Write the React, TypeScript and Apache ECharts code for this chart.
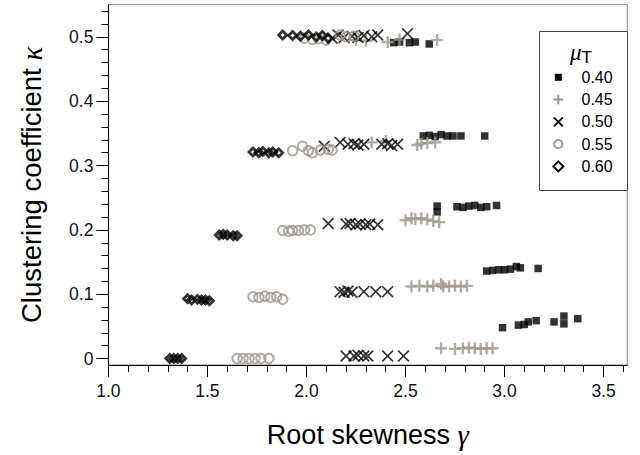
import React, { useEffect, useRef } from "react";
import * as echarts from "echarts";

// ---------- data (γ, κ) per μT ----------
const muLabels = ["0.40", "0.45", "0.50", "0.55", "0.60"];

const mu040: number[][] = [
  [2.44, 0.491], [2.47, 0.492], [2.52, 0.491], [2.55, 0.492], [2.62, 0.489],
  [2.59, 0.346], [2.62, 0.347], [2.65, 0.345], [2.68, 0.348], [2.71, 0.346], [2.74, 0.346], [2.78, 0.346], [2.9, 0.346],
  [2.66, 0.228], [2.66, 0.237], [2.76, 0.236], [2.79, 0.235], [2.82, 0.237], [2.85, 0.238], [2.88, 0.235], [2.91, 0.236], [2.96, 0.238],
  [2.91, 0.136], [2.94, 0.137], [2.97, 0.138], [3.0, 0.138], [3.03, 0.139], [3.06, 0.143], [3.08, 0.141], [3.17, 0.14],
  [2.99, 0.048], [3.07, 0.052], [3.1, 0.053], [3.12, 0.057], [3.16, 0.059], [3.25, 0.057], [3.3, 0.066], [3.3, 0.054], [3.37, 0.062],
];

const mu045: number[][] = [
  [2.25, 0.495], [2.3, 0.494], [2.41, 0.492], [2.47, 0.496], [2.66, 0.495],
  [2.33, 0.336], [2.4, 0.338], [2.56, 0.332], [2.58, 0.334], [2.61, 0.335], [2.65, 0.336],
  [2.5, 0.215], [2.53, 0.218], [2.55, 0.217], [2.58, 0.218], [2.61, 0.216], [2.64, 0.214], [2.67, 0.212],
  [2.53, 0.112], [2.57, 0.113], [2.61, 0.112], [2.64, 0.113], [2.68, 0.116], [2.69, 0.112], [2.72, 0.112], [2.75, 0.113], [2.78, 0.112], [2.81, 0.113],
  [2.68, 0.016], [2.75, 0.015], [2.79, 0.016], [2.82, 0.017], [2.85, 0.016], [2.88, 0.015], [2.91, 0.016], [2.94, 0.016],
];

const mu050: number[][] = [
  [2.13, 0.498], [2.16, 0.503], [2.19, 0.499], [2.23, 0.501], [2.26, 0.499], [2.29, 0.502], [2.33, 0.5], [2.36, 0.503], [2.51, 0.505],
  [2.09, 0.33], [2.17, 0.336], [2.21, 0.333], [2.24, 0.334], [2.26, 0.332], [2.29, 0.333], [2.38, 0.333], [2.41, 0.334], [2.43, 0.331], [2.46, 0.333],
  [2.11, 0.21], [2.2, 0.209], [2.22, 0.21], [2.25, 0.208], [2.27, 0.209], [2.3, 0.208], [2.32, 0.209], [2.36, 0.208],
  [2.17, 0.104], [2.19, 0.103], [2.21, 0.105], [2.23, 0.103], [2.29, 0.104], [2.35, 0.104], [2.41, 0.104],
  [2.2, 0.004], [2.24, 0.004], [2.26, 0.005], [2.29, 0.004], [2.31, 0.004], [2.41, 0.004], [2.49, 0.004],
];

const mu055: number[][] = [
  [1.99, 0.498], [2.03, 0.496], [2.06, 0.497], [2.1, 0.495], [2.17, 0.503], [2.2, 0.5], [2.24, 0.501],
  [1.93, 0.323], [1.98, 0.33], [2.01, 0.323], [2.03, 0.32], [2.07, 0.324], [2.11, 0.325], [2.13, 0.324],
  [1.88, 0.199], [1.91, 0.198], [1.93, 0.199], [1.96, 0.199], [1.99, 0.2], [2.02, 0.2],
  [1.73, 0.096], [1.76, 0.095], [1.79, 0.097], [1.82, 0.095], [1.85, 0.096], [1.88, 0.092],
  [1.65, 0.0], [1.68, 0.0], [1.71, 0.0], [1.74, 0.0], [1.77, 0.0], [1.81, 0.0],
];

const mu060: number[][] = [
  [1.88, 0.503], [1.93, 0.502], [1.97, 0.501], [2.01, 0.503], [2.05, 0.5], [2.08, 0.502], [2.11, 0.498],
  [1.73, 0.321], [1.76, 0.32], [1.78, 0.322], [1.81, 0.32], [1.83, 0.321], [1.86, 0.32],
  [1.56, 0.192], [1.58, 0.193], [1.6, 0.192], [1.63, 0.191], [1.65, 0.191],
  [1.4, 0.093], [1.42, 0.091], [1.45, 0.092], [1.47, 0.091], [1.49, 0.091], [1.51, 0.09],
  [1.31, 0.0], [1.33, 0.0], [1.35, 0.0], [1.37, 0.0],
];

const xMajor = [1.0, 1.5, 2.0, 2.5, 3.0, 3.5];
const xMinor = [1.1, 1.2, 1.3, 1.4, 1.6, 1.7, 1.8, 1.9, 2.1, 2.2, 2.3, 2.4, 2.6, 2.7, 2.8, 2.9, 3.1, 3.2, 3.3, 3.4, 3.6];
const yMajor = [0, 0.1, 0.2, 0.3, 0.4, 0.5];
const yMinor = [0.02, 0.04, 0.06, 0.08, 0.12, 0.14, 0.16, 0.18, 0.22, 0.24, 0.26, 0.28, 0.32, 0.34, 0.36, 0.38, 0.42, 0.44, 0.46, 0.48, 0.52, 0.54];

const SANS = "'Liberation Sans', Arial, sans-serif";
const SERIF = "'Liberation Serif', 'Times New Roman', serif";
const GRAY = "#9c968f";

const PLUS = "path://M4,0H6V4H10V6H6V10H4V6H0V4H4Z";
const CROSS = "path://M0,1L1,0L5,4L9,0L10,1L6,5L10,9L9,10L5,6L1,10L0,9L4,5Z";

export default function App() {
  const ref = useRef<HTMLDivElement>(null);
  useEffect(() => {
    if (!ref.current) return;
    const chart = echarts.init(ref.current, null, { renderer: "svg" });

    const lx = 558.3;
    const ly = [77.3, 99.5, 121.8, 144.1, 166.4];
    const legendGraphics: any[] = [
      {
        type: "rect",
        shape: { x: 539.5, y: 31.5, width: 88, height: 159 },
        style: { fill: "#fff", stroke: "#444", lineWidth: 1 },
        z: 10,
      },
      {
        type: "text",
        x: 570,
        y: 52,
        style: {
          text: "{m|μ}{t|T}",
          verticalAlign: "middle",
          rich: {
            m: { fontFamily: SERIF, fontStyle: "italic", fontSize: 23, fill: "#000" },
            t: { fontFamily: SANS, fontSize: 17, fill: "#000", padding: [10, 0, 0, 0] },
          },
        },
        z: 11,
      },
      {
        type: "rect",
        shape: { x: lx - 3.5, y: ly[0] - 3.5, width: 7, height: 7 },
        style: { fill: "#000" },
        z: 11,
      },
      { type: "line", shape: { x1: lx - 5, y1: ly[1], x2: lx + 5, y2: ly[1] }, style: { stroke: GRAY, lineWidth: 2 }, z: 11 },
      { type: "line", shape: { x1: lx, y1: ly[1] - 5, x2: lx, y2: ly[1] + 5 }, style: { stroke: GRAY, lineWidth: 2 }, z: 11 },
      { type: "line", shape: { x1: lx - 4.5, y1: ly[2] - 4.5, x2: lx + 4.5, y2: ly[2] + 4.5 }, style: { stroke: "#000", lineWidth: 1.8 }, z: 11 },
      { type: "line", shape: { x1: lx - 4.5, y1: ly[2] + 4.5, x2: lx + 4.5, y2: ly[2] - 4.5 }, style: { stroke: "#000", lineWidth: 1.8 }, z: 11 },
      { type: "circle", shape: { cx: lx, cy: ly[3], r: 4.2 }, style: { fill: "none", stroke: GRAY, lineWidth: 1.8 }, z: 11 },
      {
        type: "polygon",
        shape: { points: [[lx, ly[4] - 5], [lx + 5, ly[4]], [lx, ly[4] + 5], [lx - 5, ly[4]]] },
        style: { fill: "#fff", stroke: "#000", lineWidth: 2 },
        z: 11,
      },
      ...muLabels.map((t, i) => ({
        type: "text",
        x: 581.5,
        y: ly[i],
        style: { text: t, fontFamily: SANS, fontSize: 16, fill: "#000", verticalAlign: "middle" },
        z: 11,
      })),
    ];

    const option: any = {
      animation: false,
      backgroundColor: "#fff",
      grid: {
        left: 108.4,
        right: 12.7,
        top: 4.7,
        bottom: 90,
        show: true,
        borderColor: "#888",
        borderWidth: 1,
        backgroundColor: "transparent",
      },
      xAxis: [
        {
          type: "value",
          min: 1.0,
          max: 3.62,
          position: "bottom",
          axisLine: { show: true, onZero: false, lineStyle: { color: "#000", width: 1 } },
          axisTick: { show: true, length: 12, customValues: xMajor, lineStyle: { color: "#000", width: 1 } },
          axisLabel: {
            customValues: xMajor,
            formatter: (v: number) => v.toFixed(1),
            fontFamily: SANS,
            fontSize: 17.5,
            color: "#111",
            margin: 17,
          },
          splitLine: { show: false },
          name: "{a|Root skewness }{b|γ}",
          nameLocation: "middle",
          nameGap: 55,
          nameTextStyle: {
            rich: {
              a: { fontFamily: SANS, fontSize: 27, color: "#000" },
              b: { fontFamily: SERIF, fontStyle: "italic", fontSize: 29, color: "#000" },
            },
          },
        },
        {
          type: "value",
          min: 1.0,
          max: 3.62,
          position: "bottom",
          axisLine: { show: false, onZero: false },
          axisTick: { show: true, length: 7, customValues: xMinor, lineStyle: { color: "#000", width: 1 } },
          axisLabel: { show: false },
          splitLine: { show: false },
        },
      ],
      yAxis: [
        {
          type: "value",
          min: -0.01,
          max: 0.55,
          position: "left",
          axisLine: { show: true, onZero: false, lineStyle: { color: "#000", width: 1 } },
          axisTick: { show: true, length: 12, customValues: yMajor, lineStyle: { color: "#000", width: 1 } },
          axisLabel: {
            customValues: yMajor,
            formatter: (v: number) => (v === 0 ? "0" : String(v)),
            fontFamily: SANS,
            fontSize: 17.5,
            color: "#111",
            margin: 15,
          },
          splitLine: { show: false },
          name: "{a|Clustering coefficient }{b|κ}",
          nameLocation: "middle",
          nameGap: 62,
          nameTextStyle: {
            rich: {
              a: { fontFamily: SANS, fontSize: 27.5, color: "#000" },
              b: { fontFamily: SERIF, fontStyle: "italic", fontSize: 29, color: "#000" },
            },
          },
        },
        {
          type: "value",
          min: -0.01,
          max: 0.55,
          position: "left",
          axisLine: { show: false, onZero: false },
          axisTick: { show: true, length: 7, customValues: yMinor, lineStyle: { color: "#000", width: 1 } },
          axisLabel: { show: false },
          splitLine: { show: false },
        },
      ],
      series: [
        {
          name: muLabels[0],
          type: "scatter",
          data: mu040,
          symbol: "rect",
          symbolSize: 7.5,
          itemStyle: { color: "#000" },
        },
        {
          name: muLabels[1],
          type: "scatter",
          data: mu045,
          symbol: PLUS,
          symbolSize: 12,
          itemStyle: { color: GRAY },
        },
        {
          name: muLabels[2],
          type: "scatter",
          data: mu050,
          symbol: CROSS,
          symbolSize: 12,
          itemStyle: { color: "#000" },
        },
        {
          name: muLabels[3],
          type: "scatter",
          data: mu055,
          symbol: "circle",
          symbolSize: 9.5,
          itemStyle: { color: "transparent", borderColor: GRAY, borderWidth: 2 },
        },
        {
          name: muLabels[4],
          type: "scatter",
          data: mu060,
          symbol: "diamond",
          symbolSize: 8,
          itemStyle: { color: "transparent", borderColor: "#000", borderWidth: 2.8 },
        },
      ],
      graphic: legendGraphics,
    };

    chart.setOption(option);
    return () => chart.dispose();
  }, []);

  return (
    <div
      ref={ref}
      style={{ position: "fixed", left: 0, top: 0, width: 640, height: 455, background: "#fff" }}
    />
  );
}
